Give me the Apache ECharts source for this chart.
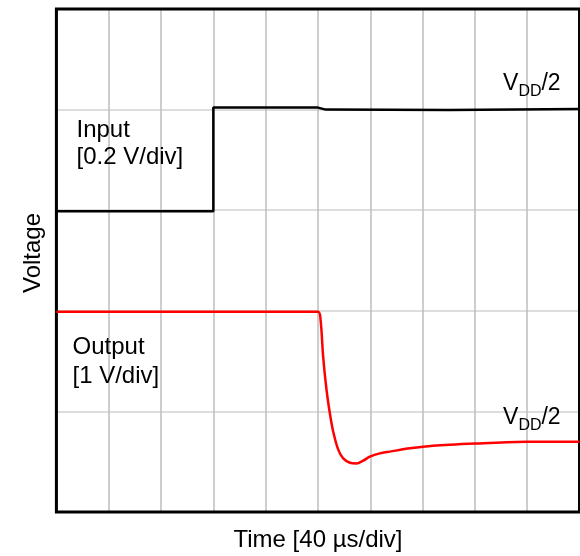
<!DOCTYPE html>
<html><head><meta charset="utf-8">
<script src="https://cdn.jsdelivr.net/npm/echarts@6/dist/echarts.min.js"></script>
<style>html,body{margin:0;padding:0;background:#fff}#c{width:580px;height:556px}</style>
</head><body><div id="c"></div>
<script>
// time in µs (40 µs/div), voltage in divisions
const inputX = [0, 120, 120, 200, 206, 300, 400];
const inputY = [2.99, 2.99, 4.02, 4.02, 4.0, 3.995, 4.005];
const outputX = [0, 200, 202, 204, 206.6, 209.5, 212, 215.5, 219.3, 224.4, 229.5, 234.6, 239.7, 247.3, 255, 270.3, 287.9, 323.8, 359.7, 400];
const outputY = [1.99, 1.99, 1.91, 1.54, 1.21, 0.95, 0.78, 0.62, 0.533, 0.49, 0.483, 0.51, 0.55, 0.583, 0.6, 0.633, 0.659, 0.682, 0.698, 0.698];
const xTicks = [0, 40, 80, 120, 160, 200, 240, 280, 320, 360, 400];
const yTicks = [0, 1, 2, 3, 4, 5];

const FONT = "'Liberation Sans', Arial, sans-serif";
const chart = echarts.init(document.getElementById('c'), null, {renderer: 'canvas'});
function txt(x, y, text, size, align, rot) {
  return {type: 'text', x: x, y: y, rotation: rot || 0, z: 100,
    style: {text: text, fontSize: size, fontFamily: FONT, fill: '#000', align: align || 'left', verticalAlign: 'middle'}};
}
chart.setOption({
  animation: false,
  grid: {left: 56.4, right: 0.5, top: 9, bottom: 44, show: true, borderColor: '#000', borderWidth: 3, z: 5},
  xAxis: {type: 'value', min: xTicks[0], max: xTicks[xTicks.length - 1], interval: 40,
    axisLine: {show: false}, axisTick: {show: false}, axisLabel: {show: false},
    splitLine: {show: true, lineStyle: {color: '#bdbdbd', width: 1.5}}},
  yAxis: {type: 'value', min: yTicks[0], max: yTicks[yTicks.length - 1], interval: 1,
    axisLine: {show: false}, axisTick: {show: false}, axisLabel: {show: false},
    splitLine: {show: true, lineStyle: {color: '#d2d2d2', width: 1.5}}},
  series: [
    {type: 'line', data: inputX.map((x, i) => [x, inputY[i]]), showSymbol: false, symbol: 'none',
      lineStyle: {color: '#000', width: 2.5}, z: 10},
    {type: 'line', data: outputX.map((x, i) => [x, outputY[i]]), showSymbol: false, symbol: 'none', smooth: 0.3,
      lineStyle: {color: '#ff0000', width: 2.5}, z: 10}
  ],
  graphic: [
    txt(76.5, 130.6, 'Input', 24),
    txt(76.5, 157.8, '[0.2 V/div]', 24),
    txt(72.5, 347.3, 'Output', 24),
    txt(72.5, 376.6, '[1 V/div]', 24),
    txt(503, 83.5, 'V', 23), txt(518.4, 91.5, 'DD', 16), txt(541.4, 83.5, '/2', 23),
    txt(503, 417.3, 'V', 23), txt(518.4, 425.3, 'DD', 16), txt(541.4, 417.3, '/2', 23),
    txt(318, 540, 'Time [40 µs/div]', 24, 'center'),
    txt(33.5, 253, 'Voltage', 24, 'center', Math.PI / 2)
  ]
});
</script></body></html>
